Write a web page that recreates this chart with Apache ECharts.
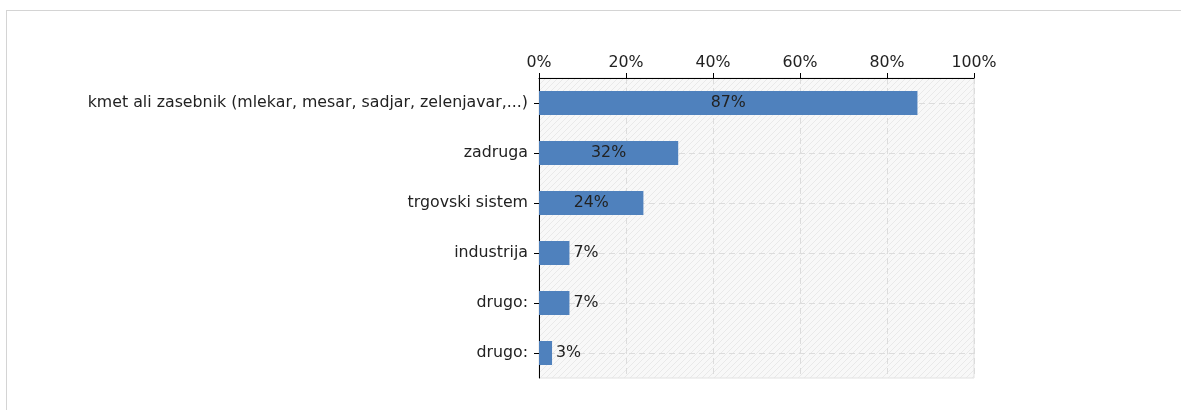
<!DOCTYPE html>
<html>
<head>
<meta charset="utf-8">
<script src="https://cdn.jsdelivr.net/npm/echarts@6/dist/echarts.min.js"></script>
<style>
html,body{margin:0;padding:0;background:#fff;}
#frame{position:absolute;left:6px;top:10px;width:1200px;height:420px;border-left:1px solid #d4d4d4;border-top:1px solid #d4d4d4;}
#chart{position:absolute;left:0;top:0;width:1181px;height:410px;}
</style>
</head>
<body>
<div id="frame"></div>
<div id="chart"></div>
<script>
const categories = ['kmet ali zasebnik (mlekar, mesar, sadjar, zelenjavar,...)', 'zadruga', 'trgovski sistem', 'industrija', 'drugo:', 'drugo:'];
const values = [87, 32, 24, 7, 7, 3];
const xTicks = [0, 20, 40, 60, 80, 100];

const FONT = 'DejaVu Sans';
const FS = 15.8;

// hatch pattern
const pc = document.createElement('canvas');
pc.width = 6; pc.height = 6;
const px = pc.getContext('2d');
px.fillStyle = '#f8f8f8';
px.fillRect(0, 0, 6, 6);
px.strokeStyle = '#e9e9e9';
px.lineWidth = 1;
px.beginPath();
px.moveTo(-1, 7); px.lineTo(7, -1);
px.moveTo(-1, 1); px.lineTo(1, -1);
px.moveTo(5, 7); px.lineTo(7, 5);
px.stroke();

const chart = echarts.init(document.getElementById('chart'), null, {renderer: 'canvas'});
chart.setOption({
  animation: false,
  grid: {
    left: 539, right: 207, top: 78, bottom: 32,
    show: true,
    backgroundColor: {image: pc, repeat: 'repeat'},
    borderColor: '#e2e2e2',
    borderWidth: 1
  },
  xAxis: {
    type: 'value',
    position: 'top',
    min: 0, max: 100, interval: 20,
    axisLine: {show: true, lineStyle: {color: '#000', width: 1}},
    axisTick: {show: true, length: 5, lineStyle: {color: '#000'}},
    axisLabel: {formatter: v => xTicks.includes(v) ? v + '%' : '', color: '#222', fontFamily: FONT, fontSize: FS, margin: 7},
    splitLine: {show: true, lineStyle: {color: '#dcdcdc', type: [6, 4]}}
  },
  yAxis: {
    type: 'category',
    data: categories,
    inverse: true,
    axisLine: {show: true, lineStyle: {color: '#000', width: 1}},
    axisTick: {show: true, alignWithLabel: true, length: 5, lineStyle: {color: '#000'}},
    axisLabel: {color: '#222', fontFamily: FONT, fontSize: FS, margin: 11},
    splitLine: {show: true, alignWithLabel: true, lineStyle: {color: '#dcdcdc', type: [6, 4]}}
  },
  series: [{
    type: 'bar',
    data: values.map(v => ({
      value: v,
      label: {position: v >= 15 ? 'inside' : 'right', distance: 4}
    })),
    barWidth: 24,
    itemStyle: {color: '#4f81bd'},
    label: {
      show: true,
      formatter: '{c}%',
      color: '#222',
      fontFamily: FONT,
      fontSize: FS
    }
  }]
});
</script>
</body>
</html>
